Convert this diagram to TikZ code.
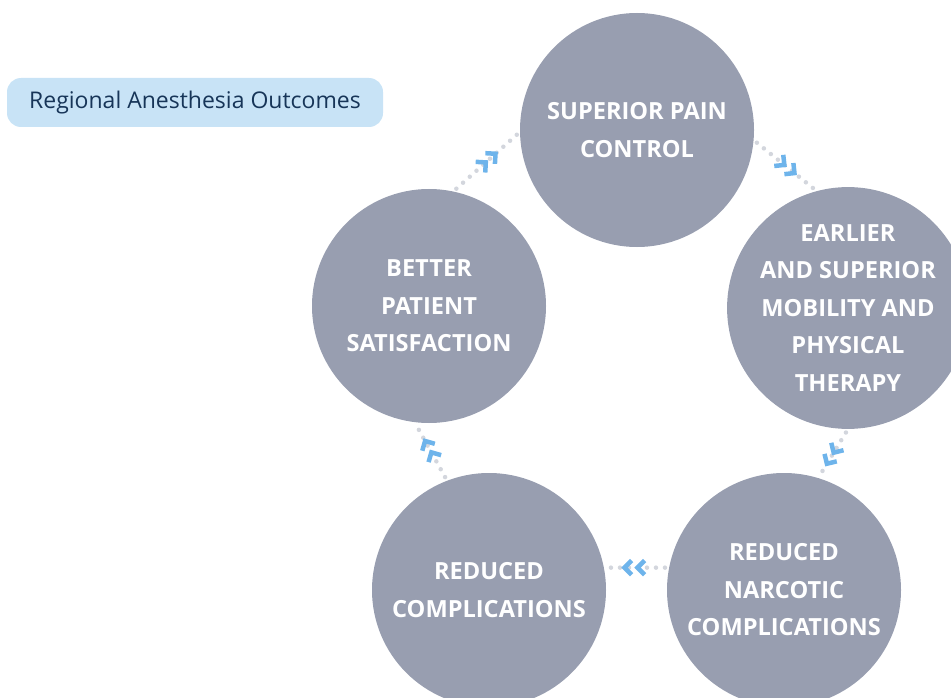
\documentclass[tikz,border=0pt]{standalone}
\usepackage{fontspec}
\setmainfont{Open Sans}
\usetikzlibrary{decorations.markings}
\definecolor{circ}{HTML}{989EB0}
\definecolor{dotc}{HTML}{D3D6DD}
\definecolor{chev}{HTML}{6EB4EB}
\definecolor{boxc}{HTML}{C8E3F6}
\definecolor{titlec}{HTML}{173558}
\tikzset{
  chevline/.style={draw=chev, line width=4.5pt, line join=miter, line cap=butt, solid},
  outcome/.style={circle, fill=circ, minimum size=234pt, inner sep=0pt, text=white,
    font=\bfseries\fontsize{23.6}{37.5}\selectfont, align=center},
  flow/.style={draw=dotc, line width=4.5pt, line cap=round, dash pattern=on 0pt off 9pt,
    shorten <=4pt, shorten >=4pt, postaction={decorate},
    decoration={markings, mark=at position 0.5 with {
      \draw[chevline] (2pt,10pt) -- (12pt,0pt) -- (2pt,-10pt);
      \draw[chevline] (-11pt,10pt) -- (-1pt,0pt) -- (-11pt,-10pt);
    }}},
  titlebox/.style={rounded corners=14pt, fill=boxc, minimum width=376pt, minimum height=49pt,
    text=titlec, font=\fontsize{23}{27}\selectfont, inner sep=0pt}
}
\begin{document}
\begin{tikzpicture}[x=1pt,y=-1pt]
\clip (0,0) rectangle (951,698);
\useasboundingbox (0,0) rectangle (951,698);
\node[titlebox] (title) at (195,102.5) {Regional Anesthesia Outcomes};
\node[outcome] (c1) at (637,130) {SUPERIOR PAIN\\CONTROL};
\node[outcome] (c2) at (848,308) {EARLIER\\AND SUPERIOR\\MOBILITY AND\\PHYSICAL\\THERAPY};
\node[outcome] (c3) at (784,590) {REDUCED\\NARCOTIC\\COMPLICATIONS};
\node[outcome] (c4) at (489,590) {REDUCED\\COMPLICATIONS};
\node[outcome] (c5) at (429,306) {BETTER\\PATIENT\\SATISFACTION};
\draw[flow] (c1.-5) -- (c2.105);
\draw[flow] (c2.-90) -- (c3.73);
\draw[flow] (c3.169) -- (c4.11);
\draw[flow] (c4.111) -- (c5.-97);
\draw[flow] (c5.78) -- (c1.181);
\end{tikzpicture}
\end{document}
